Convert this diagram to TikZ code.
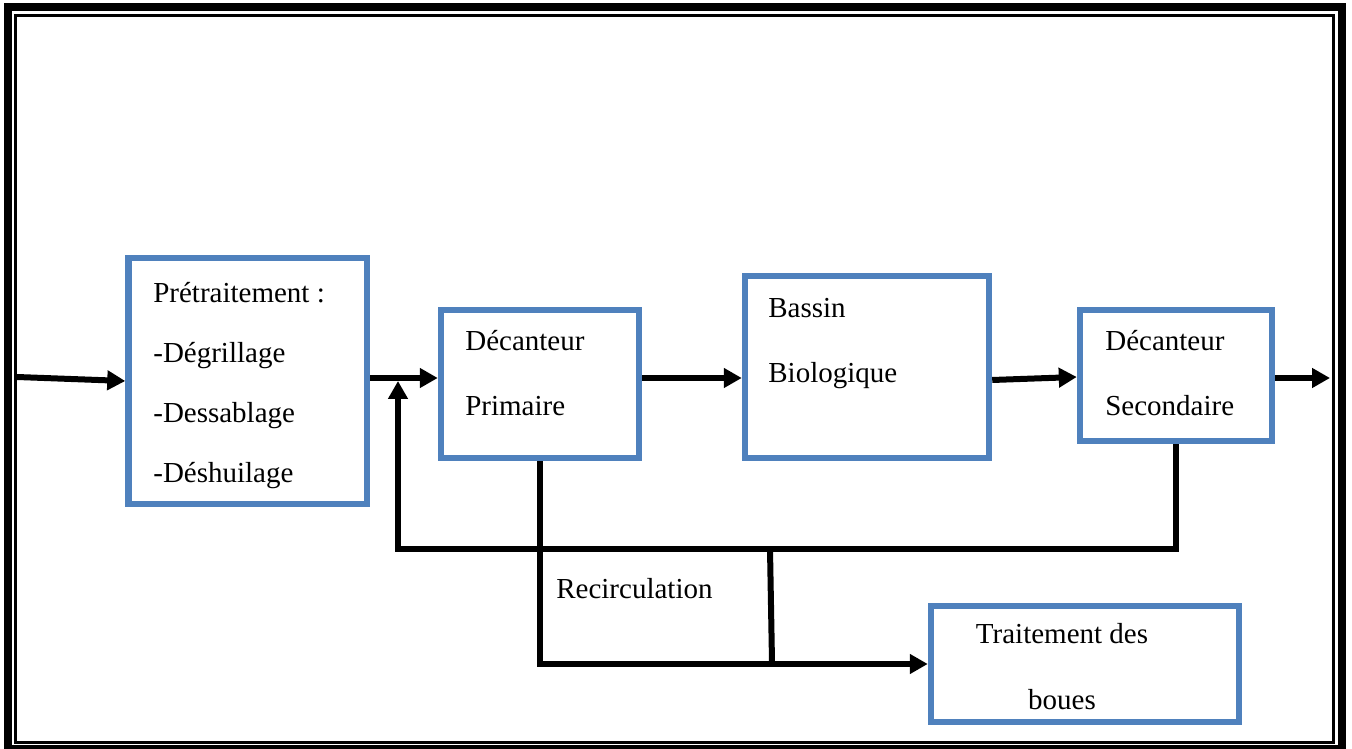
\documentclass[tikz,border=0pt]{standalone}
\usepackage{fontspec}
\setmainfont{Liberation Serif}
\usetikzlibrary{arrows.meta}
\definecolor{boxblue}{HTML}{4F81BD}
\def\fs{\fontsize{16.5pt}{20pt}\selectfont}

\begin{document}
\begin{tikzpicture}[x=0.02cm,y=-0.02cm,
   box/.style={draw=boxblue,line width=0.13cm,inner sep=0pt},
   txt/.style={font=\fs,inner sep=0pt},
   flow/.style={line width=0.12cm,-{Triangle[length=0.36cm,width=0.38cm]}},
   link/.style={line width=0.12cm}]
\useasboundingbox (0,0) rectangle (1352,749);
% double frame
\draw[line width=0.16cm] (8,7.5) rectangle (1341.5,749);
\draw[line width=0.06cm] (15.5,15.5) rectangle (1333,742);
%
       \node [box,minimum width=4.77cm,minimum height=4.92cm] at (247.75,381) (pre) {};
       \node [txt,anchor=base west,align=left] at (153,482) (pre txt) {Prétraitement :\\[14pt]-Dégrillage\\[14pt]-Dessablage\\[14pt]-Déshuilage};
          \node [box,minimum width=3.96cm,minimum height=2.96cm] at (540,384) (dp) {};
          \node [txt,anchor=base west,align=left] at (465,416) (dp txt) {Décanteur\\[17pt]Primaire};
             \node [box,minimum width=4.88cm,minimum height=3.64cm] at (867,367) (bb) {};
             \node [txt,anchor=base west,align=left] at (768,383) (bb txt) {Bassin\\[17pt]Biologique};
                \node [box,minimum width=3.84cm,minimum height=2.62cm] at (1176,375.5) (ds) {};
                \node [txt,anchor=base west,align=left] at (1105,416) (ds txt) {Décanteur\\[17pt]Secondaire};
                   \node [box,minimum width=6.16cm,minimum height=2.32cm] at (1085,664) (tb) {};
                   \node [txt,anchor=base,align=center] at (1062,709) (tb txt) {Traitement des\\[17pt]boues};
       \node [txt,anchor=base west] at (556,598) (recirc) {Recirculation};
%
\coordinate (in) at (17,377);
\coordinate (out) at (1330,378);
\coordinate (jn) at (398,378);
\coordinate (rl) at (398,549);
\coordinate (l1) at (770,549);
\coordinate (l2) at (772,662);
%
\draw[flow] (in) -- (pre.west);
\draw[flow] (pre.east |- jn) -- (dp.west |- jn);
\draw[flow] (dp.east |- jn) -- (bb.west |- jn);
\draw[flow] (bb.east |- 0,380) -- (ds.west |- 0,377);
\draw[flow] (ds.east |- jn) -- (out);
\draw[flow] (ds.south) |- (rl) -- ([yshift=-0.06cm]jn);
\draw[flow] (dp.south) |- (tb.west);
\draw[link] (l1) -- (l2);
\end{tikzpicture}
\end{document}
